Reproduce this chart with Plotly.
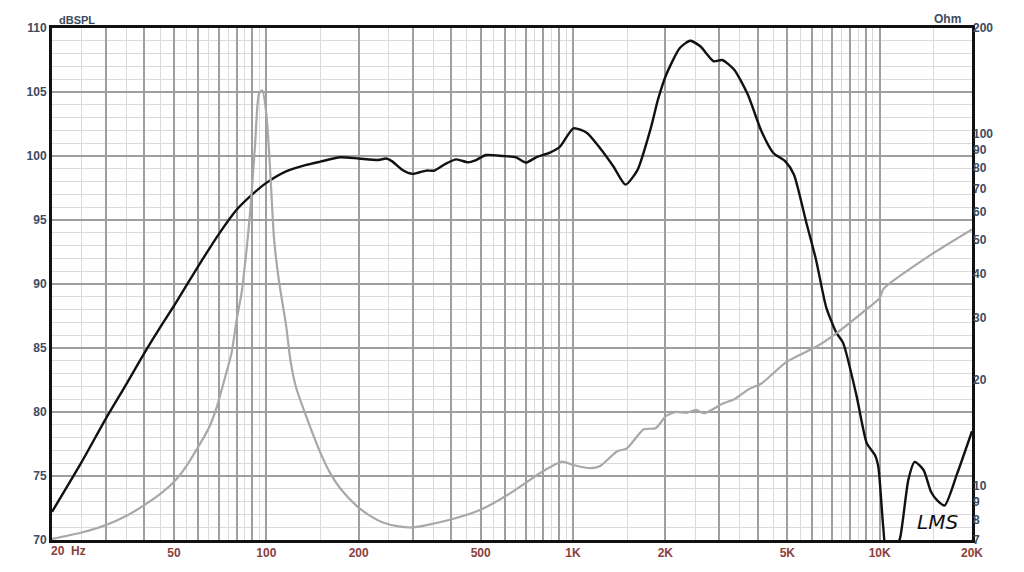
import plotly.graph_objects as go
import math

# --- SPL response (black) ---
spl_freq = [20, 25, 30, 35, 40, 45, 50, 60, 70, 80, 90, 100, 116, 135, 150, 174, 200, 232, 246, 258, 278, 300,
            332, 353, 385, 416, 455, 478, 521, 591, 652, 703, 758, 841, 907, 1003, 1111, 1226, 1356, 1483,
            1622, 1794, 1892, 2013, 2230, 2408, 2600, 2877, 3068, 3355, 3715, 4116, 4500, 4924, 5255, 5750,
            6200, 6690, 7220, 7600, 8400, 9080, 9650, 9900, 10268, 10500, 11200, 11640, 12400, 13000, 13900,
            14700, 15400, 16300, 17900, 20000]
spl_db = [72.2, 76.1, 79.5, 82.2, 84.6, 86.6, 88.3, 91.4, 93.9, 95.8, 97.0, 97.9, 98.8, 99.3, 99.56, 99.9, 99.8,
          99.69, 99.8, 99.56, 98.9, 98.6, 98.86, 98.86, 99.4, 99.74, 99.5, 99.63, 100.08, 100.0, 99.9, 99.48,
          99.9, 100.26, 100.73, 102.16, 101.8, 100.6, 99.16, 97.76, 98.9, 102.2, 104.4, 106.35, 108.44, 109.0,
          108.57, 107.4, 107.5, 106.74, 104.8, 101.93, 100.23, 99.58, 98.54, 94.9, 91.9, 88.2, 86.2, 85.4,
          81.3, 77.55, 76.64, 75.7, 71.04, 69.3, 69.3, 70.1, 74.7, 76.1, 75.47, 73.77, 73.1, 72.7, 75.2, 78.5]

# --- Impedance (grey) ---
imp_freq = [20, 25, 30, 35, 40, 45, 50, 55, 60, 65, 69, 73, 77, 80, 83, 86, 88.5, 91.8, 94.6, 97, 100, 102.6,
            106, 110, 116, 120, 125, 135, 150, 161, 174, 197, 218, 240, 270, 300, 385, 497, 623, 800, 921, 1003,
            1140, 1226, 1390, 1500, 1700, 1860, 2013, 2170, 2340, 2520, 2680, 3075, 3355, 3750, 4116, 4980,
            6200, 7220, 9300, 10000, 10300, 14500, 20000]
imp_ohm = [7.05, 7.35, 7.72, 8.2, 8.8, 9.45, 10.25, 11.4, 12.9, 14.6, 16.76, 20.0, 23.8, 29.6, 35.2, 46.0,
           59.5, 92.0, 130.0, 133.0, 114.0, 82.5, 50.0, 38.0, 28.5, 22.5, 19.0, 15.7, 12.4, 10.9, 9.82, 8.75,
           8.2, 7.85, 7.65, 7.6, 7.94, 8.52, 9.5, 11.0, 11.7, 11.44, 11.2, 11.36, 12.5, 12.76, 14.45, 14.55,
           15.77, 16.2, 16.1, 16.4, 16.05, 17.1, 17.6, 18.8, 19.5, 22.5, 24.8, 27.1, 32.3, 34.1, 36.3, 45.0, 53.5]

# --- Axis ticks ---
x_major = [20, 30, 40, 50, 60, 70, 80, 90,
           100, 200, 300, 400, 500, 600, 700, 800, 900,
           1000, 2000, 3000, 4000, 5000, 6000, 7000, 8000, 9000,
           10000, 20000]
x_labels = {50: "50", 100: "100", 200: "200", 500: "500", 1000: "1K", 2000: "2K",
            5000: "5K", 10000: "10K", 20000: "20K"}
x_minor = [25, 35, 45, 55, 65, 75, 85, 95,
           150, 250, 350, 450, 550, 650, 750, 850, 950,
           1500, 2500, 3500, 4500, 5500, 6500, 7500, 8500, 9500, 15000]
y_left_ticks = [70, 75, 80, 85, 90, 95, 100, 105, 110]
y_right_ticks = [7, 8, 9, 10, 20, 30, 40, 50, 60, 70, 80, 90, 100, 200]

FONT = "Liberation Sans, Arial, sans-serif"
LBL_BLUE = "#3d4a60"
LBL_RED = "#8a3e3e"

fig = go.Figure()
fig.add_trace(go.Scatter(x=imp_freq, y=imp_ohm, yaxis="y2", mode="lines",
                         line=dict(color="#a8a8a8", width=2.2, shape="spline", smoothing=0.6),
                         hoverinfo="skip", showlegend=False))
fig.add_trace(go.Scatter(x=spl_freq, y=spl_db, mode="lines",
                         line=dict(color="#111111", width=2.4, shape="spline", smoothing=0.6),
                         hoverinfo="skip", showlegend=False))

fig.update_layout(
    width=1016, height=564,
    margin=dict(l=44, r=52, t=20, b=32, autoexpand=False),
    paper_bgcolor="white", plot_bgcolor="white",
    xaxis=dict(type="log", range=[math.log10(20), math.log10(20000)],
               tickmode="array", tickvals=x_major,
               ticktext=[x_labels.get(v, "") for v in x_major],
               showgrid=True, gridcolor="#9e9e9e", gridwidth=1.6,
               minor=dict(tickmode="array", tickvals=x_minor, showgrid=True,
                          gridcolor="#dadada", gridwidth=1, ticks=""),
               ticks="", showline=True, linecolor="#111111", linewidth=3, mirror=True,
               tickfont=dict(family=FONT, size=12, color=LBL_RED, weight="bold"),
               zeroline=False, fixedrange=True),
    yaxis=dict(range=[70, 110], tickmode="array", tickvals=y_left_ticks,
               showgrid=True, gridcolor="#9e9e9e", gridwidth=1.6,
               minor=dict(dtick=1, tick0=70, showgrid=True, gridcolor="#dadada", gridwidth=1, ticks=""),
               ticks="", showline=True, linecolor="#111111", linewidth=3, mirror=True,
               tickfont=dict(family=FONT, size=12, color=LBL_BLUE, weight="bold"),
               zeroline=False, fixedrange=True),
    yaxis2=dict(type="log", range=[math.log10(7), math.log10(200)], overlaying="y", side="right",
                tickmode="array", tickvals=y_right_ticks, ticktext=[str(v) for v in y_right_ticks],
                showgrid=False, ticks="", showline=False,
                tickfont=dict(family=FONT, size=12, color=LBL_BLUE, weight="bold"),
                zeroline=False, fixedrange=True),
    annotations=[
        dict(text="dBSPL", xref="paper", yref="paper", x=0.005, y=1.0, xanchor="left", yanchor="bottom",
             showarrow=False, font=dict(family=FONT, size=11, color=LBL_BLUE, weight="bold")),
        dict(text="Ohm", xref="paper", yref="paper", x=0.99, y=1.0, xanchor="right", yanchor="bottom",
             showarrow=False, font=dict(family=FONT, size=12, color=LBL_BLUE, weight="bold")),
        dict(text="20&nbsp;&nbsp;Hz", xref="paper", yref="paper", x=-0.003, y=-0.022, xanchor="left",
             yanchor="middle", showarrow=False,
             font=dict(family=FONT, size=12, color=LBL_RED, weight="bold")),
        dict(text="LMS", xref="paper", yref="paper", x=0.963, y=0.035, xanchor="center", yanchor="middle",
             showarrow=False, font=dict(family="DejaVu Sans", size=20, color="#111111", style="italic")),
    ],
)

fig.write_html("out.html")
